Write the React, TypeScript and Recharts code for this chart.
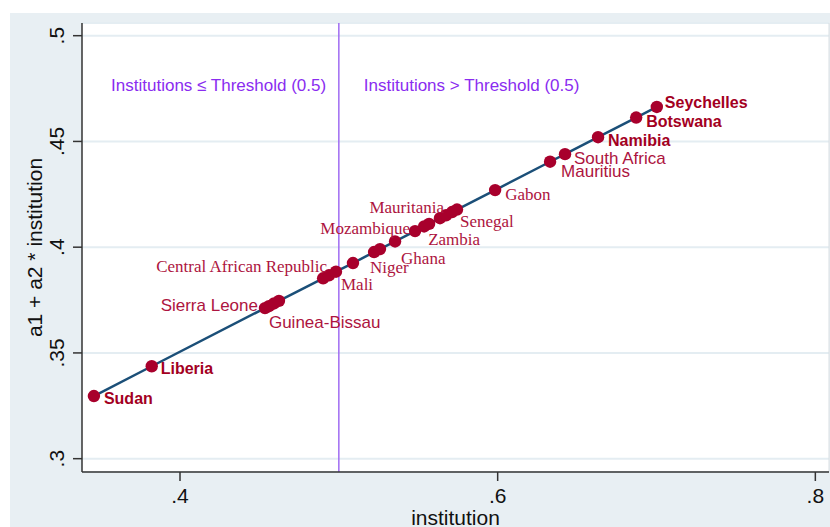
import { ComposedChart, Scatter, XAxis, YAxis, CartesianGrid, ReferenceLine, ReferenceDot } from 'recharts';

// institution score and fitted a1 + a2 * institution
const INSTITUTION = [
    0.3458, 0.3822, 0.4535, 0.4560, 0.4592, 0.4623, 0.4901, 0.4938, 0.4982, 0.5089,
    0.5222, 0.5259, 0.5354, 0.5480, 0.5537, 0.5568, 0.5637, 0.5675, 0.5713, 0.5744,
    0.5984, 0.6330, 0.6424, 0.6632, 0.6872, 0.7002,
];
const FITTED = [
    0.3296, 0.3437, 0.3712, 0.3721, 0.3734, 0.3746, 0.3853, 0.3867, 0.3884, 0.3925,
    0.3977, 0.3991, 0.4027, 0.4076, 0.4098, 0.4110, 0.4137, 0.4151, 0.4166, 0.4178,
    0.4270, 0.4404, 0.4440, 0.4520, 0.4613, 0.4663,
];
const COUNTRY = [
    'Sudan', 'Liberia', 'Sierra Leone', 'Guinea-Bissau', '', '', 'Central African Republic', '', 'Mali', 'Niger',
    '', '', 'Ghana', 'Mozambique', 'Zambia', '', '', 'Mauritania', '', 'Senegal',
    'Gabon', 'Mauritius', 'South Africa', 'Namibia', 'Botswana', 'Seychelles',
];

const X_TICKS = [0.4, 0.6, 0.8];
const X_TICK_LABELS = ['.4', '.6', '.8'];
const Y_TICKS = [0.3, 0.35, 0.4, 0.45, 0.5];
const Y_TICK_LABELS = ['.3', '.35', '.4', '.45', '.5'];

const THRESHOLD = 0.5;
const NOTE_TEXT = ['Institutions \u2264 Threshold (0.5)', 'Institutions > Threshold (0.5)'];
const NOTE_X = [0.4243, 0.5836];
const NOTE_Y = 0.4764;

const data = INSTITUTION.map((x, i) => ({ x, y: FITTED[i], name: COUNTRY[i] }));

// label placement (offset from the marker) and type face
type Face = 'bold' | 'sans' | 'serif';
const LABELS: Record<string, { dx: number; dy: number; end?: boolean; face: Face }> = {
    'Sudan': { dx: 10, dy: 2, face: 'bold' },
    'Liberia': { dx: 9, dy: 2, face: 'bold' },
    'Sierra Leone': { dx: -7, dy: -3, end: true, face: 'sans' },
    'Guinea-Bissau': { dx: 0, dy: 16, face: 'sans' },
    'Central African Republic': { dx: 4, dy: -12, end: true, face: 'serif' },
    'Mali': { dx: 5, dy: 13, face: 'serif' },
    'Niger': { dx: 17, dy: 4, face: 'serif' },
    'Ghana': { dx: 6, dy: 17, face: 'serif' },
    'Mozambique': { dx: -5, dy: -3, end: true, face: 'serif' },
    'Zambia': { dx: 4, dy: 13.5, face: 'serif' },
    'Mauritania': { dx: -2, dy: -8, end: true, face: 'serif' },
    'Senegal': { dx: 3, dy: 11.5, face: 'serif' },
    'Gabon': { dx: 10, dy: 4, face: 'serif' },
    'Mauritius': { dx: 11, dy: 10, face: 'sans' },
    'South Africa': { dx: 9, dy: 4, face: 'sans' },
    'Namibia': { dx: 10, dy: 3, face: 'bold' },
    'Botswana': { dx: 10, dy: 4, face: 'bold' },
    'Seychelles': { dx: 8, dy: -4, face: 'bold' },
};

const SANS = '"Liberation Sans", Arial, sans-serif';
const SERIF = '"Liberation Serif", "Times New Roman", serif';
const MARKER = '#a8002c';
const LINE = '#1b4f78';
const PURPLE = '#8a2cf0';

const Dot = (props: any) => {
    const { cx, cy } = props;
    return <circle cx={cx} cy={cy} r={6.2} fill={MARKER} />;
};

const CountryLabel = (props: any) => {
    const { cx, cy, payload } = props;
    const spec = LABELS[payload.name];
    if (!spec) return <g />;
    const face = spec.face;
    return (
        <text
            x={cx + spec.dx}
            y={cy + spec.dy}
            textAnchor={spec.end ? 'end' : 'start'}
            dominantBaseline="central"
            fontFamily={face === 'serif' ? SERIF : SANS}
            fontWeight={face === 'bold' ? 'bold' : 'normal'}
            fontSize={face === 'bold' ? 16 : 17}
            fill={face === 'bold' ? '#a3001f' : '#ad1440'}
        >
            {payload.name}
        </text>
    );
};

const XTick = (props: any) => {
    const { x, payload } = props;
    const i = X_TICKS.indexOf(payload.value);
    return (
        <text x={x} y={503} textAnchor="middle" fontFamily={SANS} fontSize={21} fill="#111">
            {X_TICK_LABELS[i]}
        </text>
    );
};

const YTick = (props: any) => {
    const { y, payload } = props;
    const i = Y_TICKS.indexOf(payload.value);
    return (
        <text x={64} y={y} transform={`rotate(-90, 64, ${y})`} textAnchor="middle" fontFamily={SANS} fontSize={21} fill="#111">
            {Y_TICK_LABELS[i]}
        </text>
    );
};

const YTitle = (props: any) => {
    const { viewBox } = props;
    const cy = viewBox.y + viewBox.height / 2;
    return (
        <text x={42} y={cy} transform={`rotate(-90, 42, ${cy})`} textAnchor="middle" fontFamily={SANS} fontSize={21} fill="#111">
            a1 + a2 * institution
        </text>
    );
};

const Note = (text: string) => (props: any) => {
    const { viewBox } = props;
    return (
        <text x={viewBox.cx ?? viewBox.x} y={viewBox.cy ?? viewBox.y} textAnchor="middle" dominantBaseline="central"
            fontFamily={SANS} fontSize={17} fill={PURPLE}>
            {text}
        </text>
    );
};

export default function App() {
    return (
        <div style={{ position: 'absolute', left: 0, top: 0, width: 830, height: 527, background: '#fff', overflow: 'hidden' }}>
            <div style={{ position: 'absolute', left: 10, top: 13, width: 820, height: 514, background: '#e8eff3' }} />
            <div style={{ position: 'absolute', left: 0, top: 0 }}>
                <ComposedChart width={830} height={527} data={data} margin={{ top: 23, right: 1, bottom: 0, left: 10 }}>
                    <CartesianGrid fill="#fff" vertical={false} stroke="#e4edf2" strokeWidth={2} />
                    <XAxis
                        type="number"
                        dataKey="x"
                        domain={[0.3383, 0.8086]}
                        ticks={X_TICKS}
                        allowDataOverflow
                        height={55}
                        tickSize={9}
                        tick={<XTick />}
                        axisLine={{ stroke: '#333', strokeWidth: 1.5 }}
                        tickLine={{ stroke: '#333', strokeWidth: 1.5 }}
                        label={{ value: 'institution', position: 'insideBottom', offset: 2, fontFamily: SANS, fontSize: 21, fill: '#111' }}
                    />
                    <YAxis
                        type="number"
                        dataKey="y"
                        domain={[0.2937, 0.506]}
                        ticks={Y_TICKS}
                        allowDataOverflow
                        width={72}
                        tickSize={9}
                        tick={<YTick />}
                        axisLine={{ stroke: '#333', strokeWidth: 1.5 }}
                        tickLine={{ stroke: '#333', strokeWidth: 1.5 }}
                        label={{ content: <YTitle /> } as any}
                    />
                    <ReferenceLine x={0.8086} stroke="#d9dfe3" strokeWidth={1} />
                    <Scatter
                        data={data}
                        dataKey="y"
                        shape={<Dot />}
                        line={{ stroke: LINE, strokeWidth: 2.5 }}
                        fill={LINE}
                        isAnimationActive={false}
                    />
                    <Scatter data={data} dataKey="y" shape={<CountryLabel />} isAnimationActive={false} />
                    <ReferenceLine x={THRESHOLD} stroke="#a06cf2" strokeWidth={1.5} />
                    {NOTE_TEXT.map((t, i) => (
                        <ReferenceDot key={t} x={NOTE_X[i]} y={NOTE_Y} r={0} fill="none" stroke="none" label={{ content: Note(t) } as any} />
                    ))}
                </ComposedChart>
            </div>
        </div>
    );
}
